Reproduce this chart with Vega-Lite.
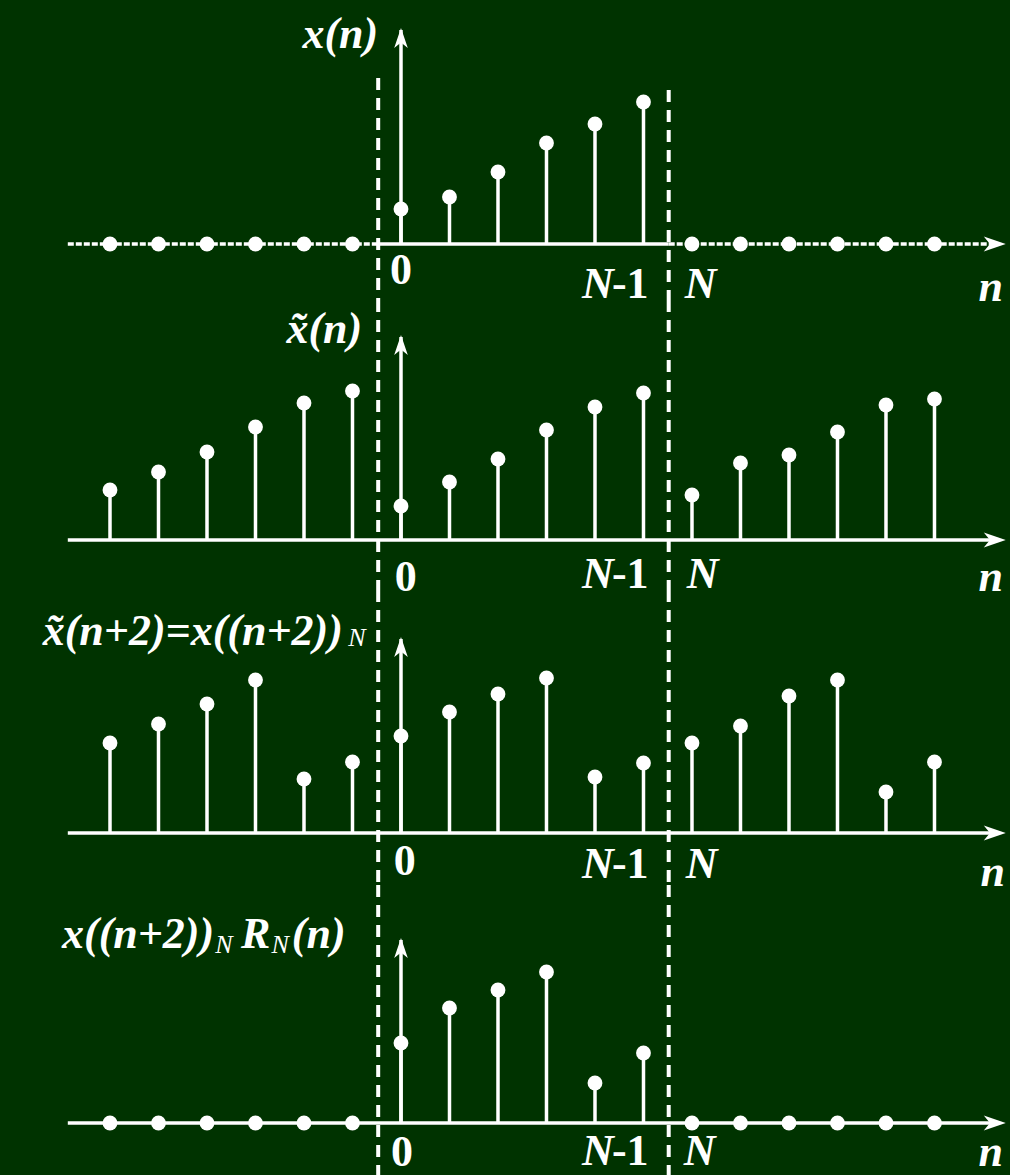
{
  "$schema": "https://vega.github.io/schema/vega-lite/v6.json",
  "background": "#003300",
  "padding": 0,
  "spacing": 0,
  "bounds": "flush",
  "config": {"view": {"stroke": null}},
  "datasets": {
    "p1": [
      {"n": -6, "v": 0}, {"n": -5, "v": 0}, {"n": -4, "v": 0}, {"n": -3, "v": 0}, {"n": -2, "v": 0}, {"n": -1, "v": 0},
      {"n": 0, "v": 35}, {"n": 1, "v": 47}, {"n": 2, "v": 72}, {"n": 3, "v": 101}, {"n": 4, "v": 120}, {"n": 5, "v": 142},
      {"n": 6, "v": 0}, {"n": 7, "v": 0}, {"n": 8, "v": 0}, {"n": 9, "v": 0}, {"n": 10, "v": 0}, {"n": 11, "v": 0}
    ],
    "p2": [
      {"n": -6, "v": 50}, {"n": -5, "v": 68}, {"n": -4, "v": 88}, {"n": -3, "v": 113}, {"n": -2, "v": 137}, {"n": -1, "v": 149},
      {"n": 0, "v": 34}, {"n": 1, "v": 58}, {"n": 2, "v": 81}, {"n": 3, "v": 110}, {"n": 4, "v": 133}, {"n": 5, "v": 147},
      {"n": 6, "v": 45}, {"n": 7, "v": 77}, {"n": 8, "v": 85}, {"n": 9, "v": 108}, {"n": 10, "v": 135}, {"n": 11, "v": 141}
    ],
    "p3": [
      {"n": -6, "v": 90}, {"n": -5, "v": 109}, {"n": -4, "v": 129}, {"n": -3, "v": 153}, {"n": -2, "v": 54}, {"n": -1, "v": 71},
      {"n": 0, "v": 97}, {"n": 1, "v": 121}, {"n": 2, "v": 139}, {"n": 3, "v": 155}, {"n": 4, "v": 56}, {"n": 5, "v": 70},
      {"n": 6, "v": 90}, {"n": 7, "v": 107}, {"n": 8, "v": 137}, {"n": 9, "v": 153}, {"n": 10, "v": 41}, {"n": 11, "v": 71}
    ],
    "p4": [
      {"n": -6, "v": 0}, {"n": -5, "v": 0}, {"n": -4, "v": 0}, {"n": -3, "v": 0}, {"n": -2, "v": 0}, {"n": -1, "v": 0},
      {"n": 0, "v": 80}, {"n": 1, "v": 115}, {"n": 2, "v": 133}, {"n": 3, "v": 151}, {"n": 4, "v": 40}, {"n": 5, "v": 70},
      {"n": 6, "v": 0}, {"n": 7, "v": 0}, {"n": 8, "v": 0}, {"n": 9, "v": 0}, {"n": 10, "v": 0}, {"n": 11, "v": 0}
    ]
  },
  "vconcat": [
    {
      "width": 1010,
      "height": 300,
      "layer": [
        {"data": {"values": [{}]}, "mark": {"type": "rule", "color": "white", "strokeWidth": 4, "strokeDash": [12, 8]},
         "encoding": {"x": {"datum": -0.47, "type": "quantitative", "scale": {"domain": [-8.268, 12.557], "nice": false, "zero": false}, "axis": null},
                      "y": {"datum": 166, "type": "quantitative", "scale": {"domain": [-56, 244], "nice": false, "zero": false}, "axis": null}, "y2": {"datum": -56}}},
        {"data": {"values": [{}]}, "mark": {"type": "rule", "color": "white", "strokeWidth": 4, "strokeDash": [12, 8]},
         "encoding": {"x": {"datum": 5.52, "type": "quantitative", "scale": {"domain": [-8.268, 12.557], "nice": false, "zero": false}, "axis": null},
                      "y": {"datum": 154, "type": "quantitative", "scale": {"domain": [-56, 244], "nice": false, "zero": false}, "axis": null}, "y2": {"datum": -56}}},
        {"data": {"values": [{}]}, "mark": {"type": "rule", "color": "white", "strokeWidth": 3.5, "strokeDash": [6, 2]},
         "encoding": {"x": {"datum": -6.87, "type": "quantitative", "scale": {"domain": [-8.268, 12.557], "nice": false, "zero": false}, "axis": null}, "x2": {"datum": -0.47},
                      "y": {"datum": 0, "type": "quantitative", "scale": {"domain": [-56, 244], "nice": false, "zero": false}, "axis": null}}},
        {"data": {"values": [{}]}, "mark": {"type": "rule", "color": "white", "strokeWidth": 3.5},
         "encoding": {"x": {"datum": -0.47, "type": "quantitative", "scale": {"domain": [-8.268, 12.557], "nice": false, "zero": false}, "axis": null}, "x2": {"datum": 5.52},
                      "y": {"datum": 0, "type": "quantitative", "scale": {"domain": [-56, 244], "nice": false, "zero": false}, "axis": null}}},
        {"data": {"values": [{}]}, "mark": {"type": "rule", "color": "white", "strokeWidth": 3.5, "strokeDash": [6, 2]},
         "encoding": {"x": {"datum": 5.52, "type": "quantitative", "scale": {"domain": [-8.268, 12.557], "nice": false, "zero": false}, "axis": null}, "x2": {"datum": 12.3},
                      "y": {"datum": 0, "type": "quantitative", "scale": {"domain": [-56, 244], "nice": false, "zero": false}, "axis": null}}},
        {"data": {"values": [{}]}, "mark": {"type": "point", "shape": "M0,0L-1,-0.34L-0.72,0L-1,0.34Z", "filled": true, "color": "white", "opacity": 1, "size": 1936},
         "encoding": {"x": {"datum": 12.47, "type": "quantitative", "scale": {"domain": [-8.268, 12.557], "nice": false, "zero": false}, "axis": null},
                      "y": {"datum": 0, "type": "quantitative", "scale": {"domain": [-56, 244], "nice": false, "zero": false}, "axis": null}}},
        {"data": {"values": [{}]}, "mark": {"type": "rule", "color": "white", "strokeWidth": 3.5},
         "encoding": {"x": {"datum": 0, "type": "quantitative", "scale": {"domain": [-8.268, 12.557], "nice": false, "zero": false}, "axis": null},
                      "y": {"datum": 0, "type": "quantitative", "scale": {"domain": [-56, 244], "nice": false, "zero": false}, "axis": null}, "y2": {"datum": 214}}},
        {"data": {"values": [{}]}, "mark": {"type": "point", "shape": "M0,0L-0.34,1L0,0.72L0.34,1Z", "filled": true, "color": "white", "opacity": 1, "size": 1600},
         "encoding": {"x": {"datum": 0, "type": "quantitative", "scale": {"domain": [-8.268, 12.557], "nice": false, "zero": false}, "axis": null},
                      "y": {"datum": 216, "type": "quantitative", "scale": {"domain": [-56, 244], "nice": false, "zero": false}, "axis": null}}},
        {"data": {"name": "p1"}, "mark": {"type": "rule", "color": "white", "strokeWidth": 3.5},
         "encoding": {"x": {"field": "n", "type": "quantitative", "scale": {"domain": [-8.268, 12.557], "nice": false, "zero": false}, "axis": null},
                      "y": {"field": "v", "type": "quantitative", "scale": {"domain": [-56, 244], "nice": false, "zero": false}, "axis": null}, "y2": {"datum": 0}}},
        {"data": {"name": "p1"}, "mark": {"type": "circle", "color": "white", "opacity": 1, "size": 220},
         "encoding": {"x": {"field": "n", "type": "quantitative", "scale": {"domain": [-8.268, 12.557], "nice": false, "zero": false}, "axis": null},
                      "y": {"field": "v", "type": "quantitative", "scale": {"domain": [-56, 244], "nice": false, "zero": false}, "axis": null}}},
        {"data": {"values": [{"t": "0", "n": 0, "v": -27, "st": "normal", "al": "center"}, {"t": "N", "n": 4.39, "v": -41, "st": "italic", "al": "right"}, {"t": "-1", "n": 4.35, "v": -41, "st": "normal", "al": "left"}, {"t": "N", "n": 6.18, "v": -41, "st": "italic", "al": "center"}, {"t": "n", "n": 12.16, "v": -44, "st": "italic", "al": "center"}, {"t": "x(n)", "n": -0.47, "v": 209, "st": "italic", "al": "right"}]},
         "mark": {"type": "text", "font": "Liberation Serif", "fontWeight": "bold", "fontSize": 44, "color": "white", "baseline": "middle", "fontStyle": {"expr": "datum.st"}, "align": {"expr": "datum.al"}},
         "encoding": {"text": {"field": "t"},
                      "x": {"field": "n", "type": "quantitative", "scale": {"domain": [-8.268, 12.557], "nice": false, "zero": false}, "axis": null},
                      "y": {"field": "v", "type": "quantitative", "scale": {"domain": [-56, 244], "nice": false, "zero": false}, "axis": null}}}
      ]
    },
    {
      "width": 1010,
      "height": 290,
      "layer": [
        {"data": {"values": [{"n": -0.47}, {"n": 5.52}]}, "mark": {"type": "rule", "color": "white", "strokeWidth": 4, "strokeDash": [12, 8]},
         "encoding": {"x": {"field": "n", "type": "quantitative", "scale": {"domain": [-8.268, 12.557], "nice": false, "zero": false}, "axis": null},
                      "y": {"datum": 240, "type": "quantitative", "scale": {"domain": [-50, 240], "nice": false, "zero": false}, "axis": null}, "y2": {"datum": -50}}},
        {"data": {"values": [{}]}, "mark": {"type": "rule", "color": "white", "strokeWidth": 3.5},
         "encoding": {"x": {"datum": -6.87, "type": "quantitative", "scale": {"domain": [-8.268, 12.557], "nice": false, "zero": false}, "axis": null}, "x2": {"datum": 12.3},
                      "y": {"datum": 0, "type": "quantitative", "scale": {"domain": [-50, 240], "nice": false, "zero": false}, "axis": null}}},
        {"data": {"values": [{}]}, "mark": {"type": "point", "shape": "M0,0L-1,-0.34L-0.72,0L-1,0.34Z", "filled": true, "color": "white", "opacity": 1, "size": 1936},
         "encoding": {"x": {"datum": 12.47, "type": "quantitative", "scale": {"domain": [-8.268, 12.557], "nice": false, "zero": false}, "axis": null},
                      "y": {"datum": 0, "type": "quantitative", "scale": {"domain": [-50, 240], "nice": false, "zero": false}, "axis": null}}},
        {"data": {"values": [{}]}, "mark": {"type": "rule", "color": "white", "strokeWidth": 3.5},
         "encoding": {"x": {"datum": 0, "type": "quantitative", "scale": {"domain": [-8.268, 12.557], "nice": false, "zero": false}, "axis": null},
                      "y": {"datum": 0, "type": "quantitative", "scale": {"domain": [-50, 240], "nice": false, "zero": false}, "axis": null}, "y2": {"datum": 203}}},
        {"data": {"values": [{}]}, "mark": {"type": "point", "shape": "M0,0L-0.34,1L0,0.72L0.34,1Z", "filled": true, "color": "white", "opacity": 1, "size": 1600},
         "encoding": {"x": {"datum": 0, "type": "quantitative", "scale": {"domain": [-8.268, 12.557], "nice": false, "zero": false}, "axis": null},
                      "y": {"datum": 205, "type": "quantitative", "scale": {"domain": [-50, 240], "nice": false, "zero": false}, "axis": null}}},
        {"data": {"name": "p2"}, "mark": {"type": "rule", "color": "white", "strokeWidth": 3.5},
         "encoding": {"x": {"field": "n", "type": "quantitative", "scale": {"domain": [-8.268, 12.557], "nice": false, "zero": false}, "axis": null},
                      "y": {"field": "v", "type": "quantitative", "scale": {"domain": [-50, 240], "nice": false, "zero": false}, "axis": null}, "y2": {"datum": 0}}},
        {"data": {"name": "p2"}, "mark": {"type": "circle", "color": "white", "opacity": 1, "size": 220},
         "encoding": {"x": {"field": "n", "type": "quantitative", "scale": {"domain": [-8.268, 12.557], "nice": false, "zero": false}, "axis": null},
                      "y": {"field": "v", "type": "quantitative", "scale": {"domain": [-50, 240], "nice": false, "zero": false}, "axis": null}}},
        {"data": {"values": [{"t": "0", "n": 0.1, "v": -38, "st": "normal", "al": "center"}, {"t": "N", "n": 4.39, "v": -35, "st": "italic", "al": "right"}, {"t": "-1", "n": 4.35, "v": -35, "st": "normal", "al": "left"}, {"t": "N", "n": 6.22, "v": -35, "st": "italic", "al": "center"}, {"t": "n", "n": 12.16, "v": -38, "st": "italic", "al": "center"}, {"t": "x̃(n)", "n": -0.8, "v": 210, "st": "italic", "al": "right"}]},
         "mark": {"type": "text", "font": "Liberation Serif", "fontWeight": "bold", "fontSize": 44, "color": "white", "baseline": "middle", "fontStyle": {"expr": "datum.st"}, "align": {"expr": "datum.al"}},
         "encoding": {"text": {"field": "t"},
                      "x": {"field": "n", "type": "quantitative", "scale": {"domain": [-8.268, 12.557], "nice": false, "zero": false}, "axis": null},
                      "y": {"field": "v", "type": "quantitative", "scale": {"domain": [-50, 240], "nice": false, "zero": false}, "axis": null}}}
      ]
    },
    {
      "width": 1010,
      "height": 295,
      "layer": [
        {"data": {"values": [{"n": -0.47}, {"n": 5.52}]}, "mark": {"type": "rule", "color": "white", "strokeWidth": 4, "strokeDash": [12, 8]},
         "encoding": {"x": {"field": "n", "type": "quantitative", "scale": {"domain": [-8.268, 12.557], "nice": false, "zero": false}, "axis": null},
                      "y": {"datum": 243, "type": "quantitative", "scale": {"domain": [-52, 243], "nice": false, "zero": false}, "axis": null}, "y2": {"datum": -52}}},
        {"data": {"values": [{}]}, "mark": {"type": "rule", "color": "white", "strokeWidth": 3.5},
         "encoding": {"x": {"datum": -6.87, "type": "quantitative", "scale": {"domain": [-8.268, 12.557], "nice": false, "zero": false}, "axis": null}, "x2": {"datum": 12.3},
                      "y": {"datum": 0, "type": "quantitative", "scale": {"domain": [-52, 243], "nice": false, "zero": false}, "axis": null}}},
        {"data": {"values": [{}]}, "mark": {"type": "point", "shape": "M0,0L-1,-0.34L-0.72,0L-1,0.34Z", "filled": true, "color": "white", "opacity": 1, "size": 1936},
         "encoding": {"x": {"datum": 12.47, "type": "quantitative", "scale": {"domain": [-8.268, 12.557], "nice": false, "zero": false}, "axis": null},
                      "y": {"datum": 0, "type": "quantitative", "scale": {"domain": [-52, 243], "nice": false, "zero": false}, "axis": null}}},
        {"data": {"values": [{}]}, "mark": {"type": "rule", "color": "white", "strokeWidth": 3.5},
         "encoding": {"x": {"datum": 0, "type": "quantitative", "scale": {"domain": [-8.268, 12.557], "nice": false, "zero": false}, "axis": null},
                      "y": {"datum": 0, "type": "quantitative", "scale": {"domain": [-52, 243], "nice": false, "zero": false}, "axis": null}, "y2": {"datum": 194}}},
        {"data": {"values": [{}]}, "mark": {"type": "point", "shape": "M0,0L-0.34,1L0,0.72L0.34,1Z", "filled": true, "color": "white", "opacity": 1, "size": 1600},
         "encoding": {"x": {"datum": 0, "type": "quantitative", "scale": {"domain": [-8.268, 12.557], "nice": false, "zero": false}, "axis": null},
                      "y": {"datum": 196, "type": "quantitative", "scale": {"domain": [-52, 243], "nice": false, "zero": false}, "axis": null}}},
        {"data": {"name": "p3"}, "mark": {"type": "rule", "color": "white", "strokeWidth": 3.5},
         "encoding": {"x": {"field": "n", "type": "quantitative", "scale": {"domain": [-8.268, 12.557], "nice": false, "zero": false}, "axis": null},
                      "y": {"field": "v", "type": "quantitative", "scale": {"domain": [-52, 243], "nice": false, "zero": false}, "axis": null}, "y2": {"datum": 0}}},
        {"data": {"name": "p3"}, "mark": {"type": "circle", "color": "white", "opacity": 1, "size": 220},
         "encoding": {"x": {"field": "n", "type": "quantitative", "scale": {"domain": [-8.268, 12.557], "nice": false, "zero": false}, "axis": null},
                      "y": {"field": "v", "type": "quantitative", "scale": {"domain": [-52, 243], "nice": false, "zero": false}, "axis": null}}},
        {"data": {"values": [{"t": "0", "n": 0.08, "v": -29, "st": "normal", "al": "center"}, {"t": "N", "n": 4.39, "v": -32, "st": "italic", "al": "right"}, {"t": "-1", "n": 4.35, "v": -32, "st": "normal", "al": "left"}, {"t": "N", "n": 6.2, "v": -32, "st": "italic", "al": "center"}, {"t": "n", "n": 12.2, "v": -40, "st": "italic", "al": "center"}, {"t": "x̃(n+2)=x((n+2))", "n": -1.2, "v": 201, "st": "italic", "al": "right"}]},
         "mark": {"type": "text", "font": "Liberation Serif", "fontWeight": "bold", "fontSize": 44, "color": "white", "baseline": "middle", "fontStyle": {"expr": "datum.st"}, "align": {"expr": "datum.al"}},
         "encoding": {"text": {"field": "t"},
                      "x": {"field": "n", "type": "quantitative", "scale": {"domain": [-8.268, 12.557], "nice": false, "zero": false}, "axis": null},
                      "y": {"field": "v", "type": "quantitative", "scale": {"domain": [-52, 243], "nice": false, "zero": false}, "axis": null}}},
        {"data": {"values": [{"t": "N", "n": -0.91, "v": 195}]}, "mark": {"type": "text", "font": "Liberation Serif", "fontStyle": "italic", "fontSize": 26, "color": "white", "align": "center", "baseline": "middle"},
         "encoding": {"text": {"field": "t"},
                      "x": {"field": "n", "type": "quantitative", "scale": {"domain": [-8.268, 12.557], "nice": false, "zero": false}, "axis": null},
                      "y": {"field": "v", "type": "quantitative", "scale": {"domain": [-52, 243], "nice": false, "zero": false}, "axis": null}}}
      ]
    },
    {
      "width": 1010,
      "height": 290,
      "layer": [
        {"data": {"values": [{"n": -0.47}, {"n": 5.52}]}, "mark": {"type": "rule", "color": "white", "strokeWidth": 4, "strokeDash": [12, 8]},
         "encoding": {"x": {"field": "n", "type": "quantitative", "scale": {"domain": [-8.268, 12.557], "nice": false, "zero": false}, "axis": null},
                      "y": {"datum": 238, "type": "quantitative", "scale": {"domain": [-52, 238], "nice": false, "zero": false}, "axis": null}, "y2": {"datum": -52}}},
        {"data": {"values": [{}]}, "mark": {"type": "rule", "color": "white", "strokeWidth": 3.5},
         "encoding": {"x": {"datum": -6.87, "type": "quantitative", "scale": {"domain": [-8.268, 12.557], "nice": false, "zero": false}, "axis": null}, "x2": {"datum": 12.3},
                      "y": {"datum": 0, "type": "quantitative", "scale": {"domain": [-52, 238], "nice": false, "zero": false}, "axis": null}}},
        {"data": {"values": [{}]}, "mark": {"type": "point", "shape": "M0,0L-1,-0.34L-0.72,0L-1,0.34Z", "filled": true, "color": "white", "opacity": 1, "size": 1936},
         "encoding": {"x": {"datum": 12.47, "type": "quantitative", "scale": {"domain": [-8.268, 12.557], "nice": false, "zero": false}, "axis": null},
                      "y": {"datum": 0, "type": "quantitative", "scale": {"domain": [-52, 238], "nice": false, "zero": false}, "axis": null}}},
        {"data": {"values": [{}]}, "mark": {"type": "rule", "color": "white", "strokeWidth": 3.5},
         "encoding": {"x": {"datum": 0, "type": "quantitative", "scale": {"domain": [-8.268, 12.557], "nice": false, "zero": false}, "axis": null},
                      "y": {"datum": 0, "type": "quantitative", "scale": {"domain": [-52, 238], "nice": false, "zero": false}, "axis": null}, "y2": {"datum": 183}}},
        {"data": {"values": [{}]}, "mark": {"type": "point", "shape": "M0,0L-0.34,1L0,0.72L0.34,1Z", "filled": true, "color": "white", "opacity": 1, "size": 1600},
         "encoding": {"x": {"datum": 0, "type": "quantitative", "scale": {"domain": [-8.268, 12.557], "nice": false, "zero": false}, "axis": null},
                      "y": {"datum": 185, "type": "quantitative", "scale": {"domain": [-52, 238], "nice": false, "zero": false}, "axis": null}}},
        {"data": {"name": "p4"}, "mark": {"type": "rule", "color": "white", "strokeWidth": 3.5},
         "encoding": {"x": {"field": "n", "type": "quantitative", "scale": {"domain": [-8.268, 12.557], "nice": false, "zero": false}, "axis": null},
                      "y": {"field": "v", "type": "quantitative", "scale": {"domain": [-52, 238], "nice": false, "zero": false}, "axis": null}, "y2": {"datum": 0}}},
        {"data": {"name": "p4"}, "mark": {"type": "circle", "color": "white", "opacity": 1, "size": 220},
         "encoding": {"x": {"field": "n", "type": "quantitative", "scale": {"domain": [-8.268, 12.557], "nice": false, "zero": false}, "axis": null},
                      "y": {"field": "v", "type": "quantitative", "scale": {"domain": [-52, 238], "nice": false, "zero": false}, "axis": null}}},
        {"data": {"values": [{"t": "0", "n": 0.02, "v": -30, "st": "normal", "al": "center"}, {"t": "N", "n": 4.39, "v": -29, "st": "italic", "al": "right"}, {"t": "-1", "n": 4.35, "v": -29, "st": "normal", "al": "left"}, {"t": "N", "n": 6.16, "v": -29, "st": "italic", "al": "center"}, {"t": "n", "n": 12.16, "v": -30, "st": "italic", "al": "center"}, {"t": "x((n+2))", "n": -6.99, "v": 188, "st": "italic", "al": "left"}, {"t": "R", "n": -3.3, "v": 188, "st": "italic", "al": "left"}, {"t": "(n)", "n": -2.25, "v": 188, "st": "italic", "al": "left"}]},
         "mark": {"type": "text", "font": "Liberation Serif", "fontWeight": "bold", "fontSize": 44, "color": "white", "baseline": "middle", "fontStyle": {"expr": "datum.st"}, "align": {"expr": "datum.al"}},
         "encoding": {"text": {"field": "t"},
                      "x": {"field": "n", "type": "quantitative", "scale": {"domain": [-8.268, 12.557], "nice": false, "zero": false}, "axis": null},
                      "y": {"field": "v", "type": "quantitative", "scale": {"domain": [-52, 238], "nice": false, "zero": false}, "axis": null}}},
        {"data": {"values": [{"t": "N", "n": -3.65, "v": 178}, {"t": "N", "n": -2.49, "v": 178}]}, "mark": {"type": "text", "font": "Liberation Serif", "fontStyle": "italic", "fontSize": 26, "color": "white", "align": "center", "baseline": "middle"},
         "encoding": {"text": {"field": "t"},
                      "x": {"field": "n", "type": "quantitative", "scale": {"domain": [-8.268, 12.557], "nice": false, "zero": false}, "axis": null},
                      "y": {"field": "v", "type": "quantitative", "scale": {"domain": [-52, 238], "nice": false, "zero": false}, "axis": null}}}
      ]
    }
  ]
}
